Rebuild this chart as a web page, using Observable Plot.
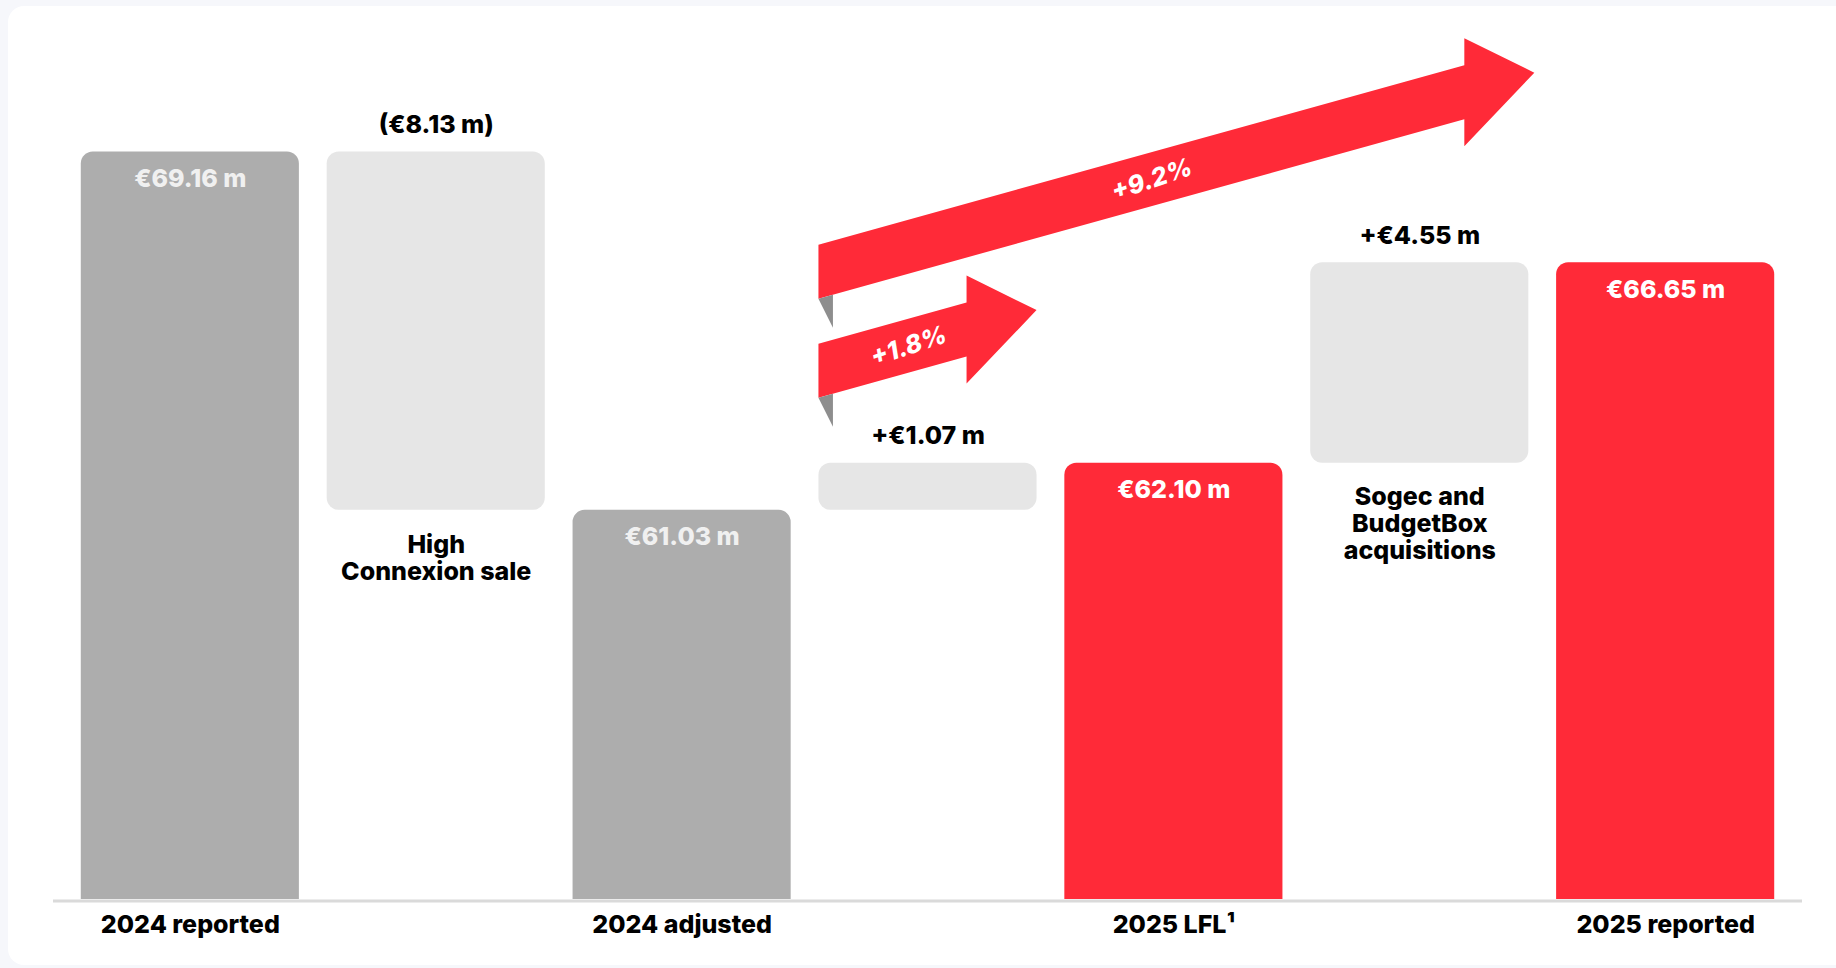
<!DOCTYPE html>
<html>
<head>
<meta charset="utf-8">
<script src="https://cdn.jsdelivr.net/npm/d3@7"></script>
<script src="https://cdn.jsdelivr.net/npm/@observablehq/plot@0.6"></script>
<style>
  html, body { margin: 0; padding: 0; overflow: hidden; background: #f6f7fb; width: 1836px; height: 968px; }
  #card { position: absolute; left: 8px; top: 6px; right: -30px; bottom: 3px; background: #ffffff; border-radius: 16px; }
  #chart { position: absolute; left: 0; top: 0; }
  #chart svg { display: block; }
</style>
</head>
<body>
<div id="card"></div>
<div id="chart"></div>
<script>
// ---- data ----
const categories = ["2024 reported", "High Connexion sale", "2024 adjusted", "LFL growth", "2025 LFL", "Sogec and BudgetBox acquisitions", "2025 reported"];
const kinds = ["total", "step", "total", "step", "total", "step", "total"];
const values = [69.16, -8.13, 61.03, 1.07, 62.10, 4.55, 66.65];
const valueLabels = ["€69.16 m", "(€8.13 m)", "€61.03 m", "+€1.07 m", "€62.10 m", "+€4.55 m", "€66.65 m"];
const axisLabels = ["2024 reported", "", "2024 adjusted", "", "2025 LFL¹", "", "2025 reported"];
const stepNotes = ["", "High\nConnexion sale", "", "", "", "Sogec and\nBudgetBox\nacquisitions", ""];
const growthLabels = ["+1.8%", "+9.2%"];
const growthFrom = ["LFL growth", "LFL growth"];
const growthTo = ["LFL growth", "Sogec and BudgetBox acquisitions"];

// truncated value axis (scale setting)
const axisFloor = 52.2;
const axisCeil = 72.6;

// ---- build waterfall rows ----
let level = axisFloor;
const rows = categories.map((c, i) => {
  let lo, hi;
  if (kinds[i] === "total") { lo = axisFloor; hi = values[i]; level = values[i]; }
  else { const next = level + values[i]; lo = Math.min(level, next); hi = Math.max(level, next); level = next; }
  return { cat: c, kind: kinds[i], value: values[i], lo, hi, label: valueLabels[i], axis: axisLabels[i], note: stepNotes[i] };
});
const totals = rows.filter(d => d.kind === "total");
const steps = rows.filter(d => d.kind === "step");

// ---- styles ----
const GRAY = "#adadad", RED = "#ff2a38", LIGHT = "#e6e6e6";
const fillFor = d => d.kind === "step" ? LIGHT : (d.cat.startsWith("2024") ? GRAY : RED);
const FONT = "Inter, 'Noto Sans', 'DejaVu Sans', sans-serif";
const FS = 25, FW = 800;
const axisLabelOf = Object.fromEntries(rows.map(d => [d.cat, d.axis]));

const plot = Plot.plot({
  width: 1836,
  height: 968,
  marginLeft: 53,
  marginRight: 34,
  marginTop: 0,
  marginBottom: 69,
  style: { background: "transparent", fontFamily: FONT, overflow: "visible" },
  x: { type: "band", domain: categories, padding: 0.113, align: 0.5, round: false, label: null },
  y: { domain: [axisFloor, axisCeil], axis: null },
  marks: [
    Plot.barY(steps, { x: "cat", y1: "lo", y2: "hi", fill: fillFor, rx: 12, ry: 12 }),
    Plot.barY(totals, { x: "cat", y1: "lo", y2: "hi", fill: fillFor, rx1y1: 12, rx2y1: 12 }),
    Plot.ruleY([axisFloor], { stroke: "#dadada", strokeWidth: 3, dy: 1.5 }),
    Plot.text(totals, { x: "cat", y: "hi", text: "label", dy: 27, fill: d => d.cat.startsWith("2024") ? "#f0f0f0" : "#ffffff", fontSize: FS, fontWeight: FW }),
    Plot.text(steps, { x: "cat", y: "hi", text: "label", dy: -27, fill: "#000", fontSize: FS, fontWeight: FW }),
    Plot.text(steps, { x: "cat", y: "lo", text: "note", lineAnchor: "top", dy: 23, lineHeight: 1.08, fill: "#000", fontSize: FS, fontWeight: FW }),
    Plot.axisX({ tickSize: 0, tickPadding: 16, tickFormat: d => axisLabelOf[d], fontSize: FS, fontWeight: FW, fill: "#000", label: null })
  ]
});
document.getElementById("chart").appendChild(plot);

// ---- growth arrows (annotations anchored on the x band scale and the LFL bar top) ----
const xs = plot.scale("x"), ys = plot.scale("y");
const bw = xs.bandwidth;
const svg = d3.select(plot);
const g = svg.append("g");
const lflTop = ys.apply(rows[3].hi);
const arrowSpec = [
  { from: growthFrom[0], to: growthTo[0], lift: 65, tipExtra: 0, textAlong: 90, label: growthLabels[0] },
  { from: growthFrom[1], to: growthTo[1], lift: 164, tipExtra: 6, textAlong: 333, label: growthLabels[1] }
];
const T = 54, slope = 0.278, headLen = 70, headHalf = 54;
for (const a of arrowSpec) {
  const xL = xs.apply(a.from);
  const xTip = xs.apply(a.to) + bw + a.tipExtra;
  const yLB = lflTop - a.lift;
  const yb = x => yLB - slope * (x - xL);
  const yt = x => yb(x) - T;
  const yc = x => yb(x) - T / 2;
  const xH = xTip - headLen;
  const pts = [[xL, yt(xL)], [xH, yt(xH)], [xH, yc(xH) - headHalf], [xTip, yc(xTip)], [xH, yc(xH) + headHalf], [xH, yb(xH)], [xL, yb(xL)]];
  g.append("path").attr("d", "M" + pts.map(p => p.join(",")).join("L") + "Z").attr("fill", RED);
  const fold = [[xL, yb(xL)], [xL + 14.5, yb(xL + 14.5)], [xL + 14.5, yb(xL) + 29]];
  g.append("path").attr("d", "M" + fold.map(p => p.join(",")).join("L") + "Z").attr("fill", "#8e8e8e");
  const tx = xL + a.textAlong, ty = yc(tx);
  g.append("text")
    .attr("transform", `translate(${tx},${ty}) rotate(${-Math.atan(slope) * 180 / Math.PI - 3})`)
    .attr("text-anchor", "middle").attr("dy", "0.35em")
    .attr("fill", "#fff").attr("font-family", FONT).attr("font-size", 25)
    .attr("font-weight", FW).attr("font-style", "italic")
    .text(a.label);
}
</script>
</body>
</html>
